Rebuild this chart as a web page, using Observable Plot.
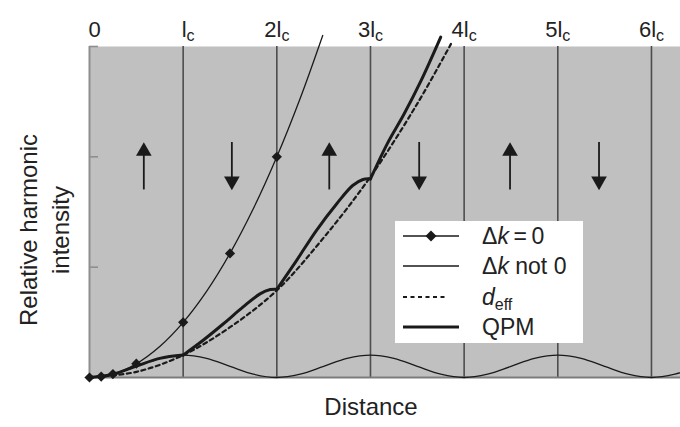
<!DOCTYPE html>
<html><head><meta charset="utf-8">
<script src="https://cdn.jsdelivr.net/npm/d3@7"></script>
<script src="https://cdn.jsdelivr.net/npm/@observablehq/plot@0.6"></script>
<style>
body{margin:0;background:#fff;font-family:"Liberation Sans",Arial,Helvetica,sans-serif;}
#wrap{position:relative;width:680px;height:427px;overflow:hidden}
#legend{position:absolute;left:395px;top:221px;width:188px;height:122px;background:#fff;}
#legend .lt{position:absolute;left:87px;height:26px;line-height:26px;font-size:23px;color:#222;white-space:nowrap}
#legend sub{font-size:16px;vertical-align:-5px;line-height:0}
</style></head><body><div id="wrap"></div>
<script>
// Domain boundaries (multiples of coherence length l_c) and their labels
const domainTicks = [0, 1, 2, 3, 4, 5, 6];
const tickLabels = ["0", "lc", "2lc", "3lc", "4lc", "5lc", "6lc"];
const yTicks = [0, 1, 2, 3];

// Δk = 0 : marked points and the full curve
const dk0PtX = [0, 0.125, 0.25, 0.5, 1, 1.5, 2];
const dk0PtY = [0, 0.008, 0.031, 0.125, 0.5, 1.125, 2];
const dk0X = [0, 0.25, 0.5, 0.75, 1, 1.25, 1.5, 1.75, 2, 2.25, 2.49];
const dk0Y = [0, 0.031, 0.125, 0.281, 0.5, 0.781, 1.125, 1.531, 2, 2.531, 3.10];

// Δk not 0 : oscillating intensity
const dkNzX = [0,0.25,0.5,0.75,1,1.25,1.5,1.75,2,2.25,2.5,2.75,3,3.25,3.5,3.75,4,4.25,4.5,4.75,5,5.25,5.5,5.75,6,6.25,6.5];
const dkNzY = [0,0.030,0.101,0.173,0.203,0.173,0.101,0.030,0,0.030,0.101,0.173,0.203,0.173,0.101,0.030,0,0.030,0.101,0.173,0.203,0.173,0.101,0.030,0,0.030,0.101];

// d_eff : effective-coefficient growth
const deffX = [0, 0.5, 1, 1.5, 2, 2.5, 3, 3.5, 3.87];
const deffY = [0, 0.051, 0.203, 0.456, 0.79, 1.267, 1.82, 2.482, 3.04];

// QPM : piecewise growth (one segment per domain)
const qpmX = [0,0.25,0.5,0.75,1,  1,1.21,1.43,1.64,1.82,1.93,2,  2,2.21,2.42,2.64,2.81,2.92,3,  3,3.18,3.36,3.54,3.75];
const qpmY = [0,0.030,0.103,0.173,0.203,  0.203,0.335,0.487,0.64,0.758,0.797,0.80,  0.80,1.06,1.33,1.575,1.74,1.795,1.80,  1.80,2.12,2.39,2.69,3.085];
const qpmSeg = [0,0,0,0,0, 1,1,1,1,1,1,1, 2,2,2,2,2,2,2, 3,3,3,3,3];

// Polarisation arrows in each domain
const arrowX = [0.58, 1.52, 2.56, 3.52, 4.49, 5.44];
const arrowDir = ["up", "down", "up", "down", "up", "down"];

const legendLabels = ["Δ<i>k</i>\u2009=\u20090", "Δ<i>k</i> not 0", "<i>d</i><sub>eff</sub>", "QPM"];

const up = i => arrowDir[i] === "up";
const ink = "#1a1a1a";
const labelOpts = {frameAnchor: "top", lineAnchor: "bottom", dy: -10, fontSize: 22, fill: "#222"};

const chart = Plot.plot({
  width: 680, height: 427,
  marginTop: 46, marginBottom: 50, marginLeft: 89, marginRight: 0,
  x: {domain: [0, 6.31], axis: null},
  y: {domain: [0, 3]},
  style: {fontFamily: '"Liberation Sans", Arial, Helvetica, sans-serif', color: "#222", background: "transparent", overflow: "visible"},
  marks: [
    Plot.frame({fill: "#c0c0c0", stroke: null}),
    Plot.ruleX(domainTicks.slice(1), {stroke: "#4d4d4d", strokeWidth: 1.6}),
    Plot.ruleX([0], {stroke: "#8e8e8e", strokeWidth: 2}),
    Plot.ruleY([0], {stroke: "#7c7c7c", strokeWidth: 2}),
    Plot.axisY({ticks: yTicks, tickSize: -9, tickFormat: () => "", label: null, stroke: "#8e8e8e", strokeWidth: 1.6}),
    // arrows
    Plot.ruleX(arrowX, {x: arrowX, y1: (d, i) => up(i) ? 1.70 : 2.13, y2: (d, i) => up(i) ? 2.05 : 1.78, stroke: ink, strokeWidth: 1.8}),
    Plot.dot(arrowX, {x: arrowX, y: (d, i) => up(i) ? 2.05 : 1.78, symbol: "triangle", rotate: (d, i) => up(i) ? 0 : 180, r: 5.8, fill: ink, stroke: null}),
    // curves
    Plot.line(dkNzX, {x: dkNzX, y: dkNzY, curve: "catmull-rom", stroke: ink, strokeWidth: 1.3}),
    Plot.line(deffX, {x: deffX, y: deffY, curve: "catmull-rom", stroke: ink, strokeWidth: 2.2, strokeDasharray: "4,3.5"}),
    Plot.line(qpmX, {x: qpmX, y: qpmY, z: qpmSeg, curve: "catmull-rom", stroke: ink, strokeWidth: 3}),
    Plot.line(dk0X, {x: dk0X, y: dk0Y, curve: "catmull-rom", stroke: ink, strokeWidth: 1.3}),
    Plot.dot(dk0PtX, {x: dk0PtX, y: dk0PtY, symbol: "diamond2", r: 4.6, fill: ink, stroke: null}),
    // top labels
    Plot.text(domainTicks.slice(0, 2), {x: d => d, text: (d, i) => tickLabels[i], dx: 5, ...labelOpts}),
    Plot.text(domainTicks.slice(2), {x: d => d, text: (d, i) => tickLabels[i + 2], ...labelOpts}),
    // axis titles
    Plot.text(["Relative harmonic\nintensity"], {text: d => d, frameAnchor: "left", textAnchor: "middle", rotate: -90, dx: -47, dy: 18, fontSize: 24, lineHeight: 1.35, fill: "#222"}),
    Plot.text(["Distance"], {text: d => d, frameAnchor: "bottom", textAnchor: "middle", dy: 37, dx: -14, fontSize: 24, fill: "#222"})
  ]
});

// subscript c in l_c labels
chart.querySelectorAll("text").forEach(t => {
  const m = /^(\d*)lc$/.exec(t.textContent);
  if (m) {
    t.textContent = m[1] + "l";
    const s = document.createElementNS("http://www.w3.org/2000/svg", "tspan");
    s.setAttribute("font-size", "16");
    s.setAttribute("dy", "4");
    s.textContent = "c";
    t.appendChild(s);
  }
});

const wrap = document.getElementById("wrap");
wrap.appendChild(chart);

// legend
const legend = document.createElement("div");
legend.id = "legend";
const rows = [15, 45, 76, 106];
let svg = `<svg width="188" height="122" style="position:absolute;left:0;top:0">`;
svg += `<line x1="8" x2="64" y1="${rows[0]}" y2="${rows[0]}" stroke="${ink}" stroke-width="1.3"/>`;
svg += `<path d="M36,${rows[0]-5.5} L41.5,${rows[0]} L36,${rows[0]+5.5} L30.5,${rows[0]}Z" fill="${ink}"/>`;
svg += `<line x1="8" x2="64" y1="${rows[1]}" y2="${rows[1]}" stroke="${ink}" stroke-width="1.3"/>`;
svg += `<line x1="8" x2="50" y1="${rows[2]}" y2="${rows[2]}" stroke="${ink}" stroke-width="2.2" stroke-dasharray="4,3.5"/>`;
svg += `<line x1="8" x2="64" y1="${rows[3]}" y2="${rows[3]}" stroke="${ink}" stroke-width="3"/>`;
svg += `</svg>`;
legend.innerHTML = svg + legendLabels.map((l, i) => `<div class="lt" style="top:${rows[i] - 13}px">${l}</div>`).join("");
wrap.appendChild(legend);
</script></body></html>
